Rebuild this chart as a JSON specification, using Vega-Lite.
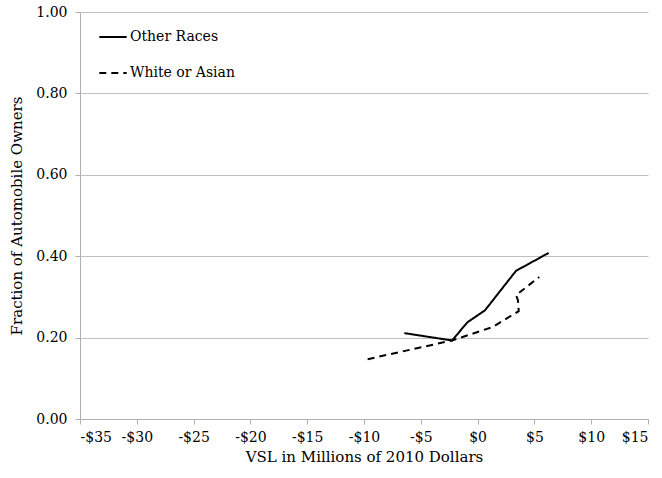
{
  "$schema": "https://vega.github.io/schema/vega-lite/v6.json",
  "width": 568,
  "height": 407,
  "autosize": {"type": "none"},
  "padding": {"left": 80, "top": 12, "right": 14, "bottom": 59},
  "background": "white",
  "config": {
    "font": "DejaVu Serif",
    "view": {"stroke": null},
    "axis": {
      "labelFont": "DejaVu Serif",
      "titleFont": "DejaVu Serif",
      "labelFontSize": 14,
      "titleFontSize": 15,
      "titleFontWeight": "normal",
      "labelColor": "black",
      "titleColor": "black",
      "domainColor": "#b0b0b0",
      "tickColor": "#b0b0b0",
      "tickSize": 5,
      "gridColor": "#c0c0c0"
    },
    "legend": {
      "labelFont": "DejaVu Serif"
    }
  },
  "data": {
    "values": [
      {"x": -6.45, "y": 0.211, "group": "Other Races", "o": 1},
      {"x": -2.25, "y": 0.193, "group": "Other Races", "o": 2},
      {"x": -0.88, "y": 0.238, "group": "Other Races", "o": 3},
      {"x": 0.65, "y": 0.267, "group": "Other Races", "o": 4},
      {"x": 3.38, "y": 0.364, "group": "Other Races", "o": 5},
      {"x": 6.25, "y": 0.408, "group": "Other Races", "o": 6},
      {"x": -9.68, "y": 0.147, "group": "White or Asian", "o": 1},
      {"x": -2.25, "y": 0.193, "group": "White or Asian", "o": 2},
      {"x": 1.32, "y": 0.226, "group": "White or Asian", "o": 3},
      {"x": 3.62, "y": 0.265, "group": "White or Asian", "o": 4},
      {"x": 3.55, "y": 0.292, "group": "White or Asian", "o": 5},
      {"x": 3.38, "y": 0.304, "group": "White or Asian", "o": 6},
      {"x": 5.43, "y": 0.349, "group": "White or Asian", "o": 7}
    ]
  },
  "mark": {"type": "line", "color": "black", "strokeWidth": 2},
  "encoding": {
    "x": {
      "field": "x",
      "type": "quantitative",
      "scale": {"domain": [-35, 15], "nice": false},
      "axis": {
        "values": [-35, -30, -25, -20, -15, -10, -5, 0, 5, 10, 15],
        "labelExpr": "datum.value < 0 ? '-$' + (-datum.value) : '$' + datum.value",
        "grid": false,
        "title": "VSL in Millions of 2010 Dollars",
        "labelPadding": 6,
        "titlePadding": 5
      }
    },
    "y": {
      "field": "y",
      "type": "quantitative",
      "scale": {"domain": [0, 1], "nice": false},
      "axis": {
        "values": [0, 0.2, 0.4, 0.6, 0.8, 1.0],
        "format": ".2f",
        "grid": true,
        "title": "Fraction of Automobile Owners",
        "labelPadding": 8,
        "titlePadding": 11
      }
    },
    "order": {"field": "o"},
    "strokeDash": {
      "field": "group",
      "type": "nominal",
      "scale": {"domain": ["Other Races", "White or Asian"], "range": [[1, 0], [7, 5]]},
      "legend": {
        "title": null,
        "orient": "none",
        "legendX": 18,
        "legendY": 10,
        "symbolType": "stroke",
        "symbolSize": 750,
        "symbolStrokeWidth": 2,
        "symbolStrokeColor": "black",
        "labelFontSize": 14,
        "labelColor": "black",
        "rowPadding": 14,
        "labelOffset": 2
      }
    }
  }
}
